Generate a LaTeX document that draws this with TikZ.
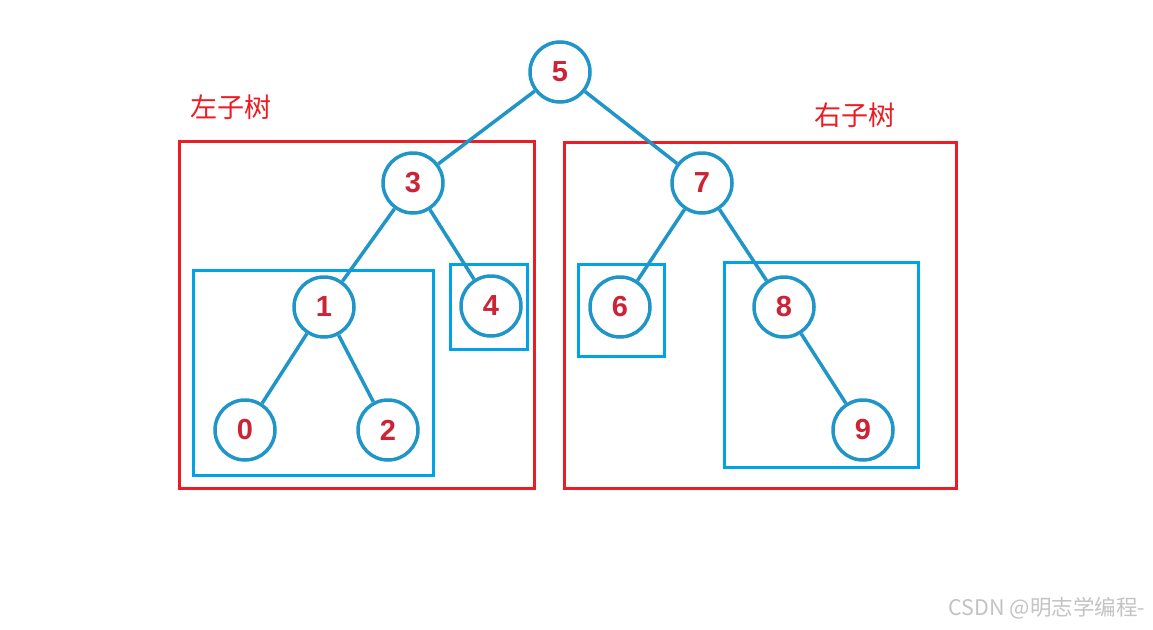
\documentclass[tikz,border=0pt]{standalone}
\usepackage{fontspec}
\setmainfont{Liberation Sans}
\newfontfamily\cjk{Noto Sans CJK SC}
\definecolor{nodeblue}{RGB}{32,150,200}
\definecolor{numred}{RGB}{205,35,55}
\definecolor{boxred}{RGB}{236,28,36}
\definecolor{boxblue}{RGB}{0,162,232}
\definecolor{wmgray}{RGB}{195,195,195}
\tikzset{
  treenode/.style={circle, draw=nodeblue, line width=3.5pt, minimum size=60pt, inner sep=0pt, fill=white,
    text=numred, font=\fontsize{29}{29}\selectfont\bfseries},
  edge/.style={draw=nodeblue, line width=3.5pt},
  redbox/.style={draw=boxred, line width=3pt},
  bluebox/.style={draw=boxblue, line width=3pt},
  cnlabel/.style={text=boxred, font=\cjk\fontsize{27}{27}\selectfont, inner sep=0pt}
}
\begin{document}
\begin{tikzpicture}[x=1pt,y=-1pt]
\useasboundingbox (0,0) rectangle (1153,629);
\fill[white] (0,0) rectangle (1153,629);
% boxes
\draw[redbox] (179,141) rectangle (534,488);
\draw[redbox] (564,142) rectangle (956,488);
\draw[bluebox] (193,270) rectangle (433,475);
\draw[bluebox] (450,264) rectangle (527,349);
\draw[bluebox] (578,264) rectangle (664,356);
\draw[bluebox] (724,262) rectangle (918,467);
% nodes
\node[treenode] (n5) at (560,72) {5};
\node[treenode] (n3) at (413,183) {3};
\node[treenode] (n7) at (702,183) {7};
\node[treenode] (n1) at (324,307) {1};
\node[treenode] (n4) at (491,306) {4};
\node[treenode] (n0) at (245,430) {0};
\node[treenode] (n2) at (388,430) {2};
\node[treenode] (n6) at (620,307) {6};
\node[treenode] (n8) at (784,307) {8};
\node[treenode] (n9) at (863,430) {9};
% edges
\draw[edge] (n5) -- (n3);
\draw[edge] (n5) -- (n7);
\draw[edge] (n3) -- (n1);
\draw[edge] (n3) -- (n4);
\draw[edge] (n7) -- (n6);
\draw[edge] (n7) -- (n8);
\draw[edge] (n1) -- (n0);
\draw[edge] (n1) -- (n2);
\draw[edge] (n8) -- (n9);
% labels
\node[cnlabel] (lt) at (231,107) {左子树};
\node[cnlabel] (rt) at (855,115) {右子树};
\node[text=wmgray, font=\cjk\fontsize{21.5}{21.5}\selectfont, inner sep=0pt] (wm) at (1047,608) {CSDN @明志学编程-};
\end{tikzpicture}
\end{document}
